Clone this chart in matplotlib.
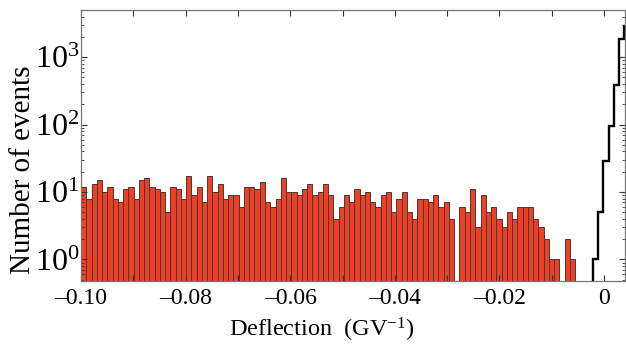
import numpy as np
import matplotlib
matplotlib.use("Agg")
import matplotlib.pyplot as plt
from matplotlib.ticker import MultipleLocator, FuncFormatter, LogLocator, NullFormatter

# ---- data ----
red_start = -0.1
red_bin = 0.001005
red_counts = [12, 8, 13, 15, 10, 12, 8, 7, 11, 12, 8, 15, 16, 12, 11, 10, 5, 12, 11, 8, 17, 9,
              12, 7, 17, 10, 13, 8, 9, 9, 6, 12, 12, 11, 14, 7, 6, 8, 16, 10, 10, 9, 11, 13, 9, 10,
              13, 9, 4, 6, 9, 7, 11, 9, 10, 7, 6, 9, 10, 5, 8, 10, 5, 4, 8, 8, 7, 9, 6, 7,
              4, 0, 6, 5, 11, 3, 9, 5, 6, 4, 3, 5, 4, 6, 6, 6, 4, 3, 2, 1, 1, 0, 2, 1]
black_edges = [-0.0022, -0.0012, -0.0002, 0.0009, 0.0019, 0.0029, 0.0039, 0.0049]
black_counts = [1, 5, 29, 95, 390, 1860, 2930]

plt.rcParams['font.family'] = ['Liberation Serif', 'DejaVu Serif']
plt.rcParams['mathtext.fontset'] = 'custom'
plt.rcParams['mathtext.rm'] = 'Liberation Serif'
plt.rcParams['mathtext.it'] = 'Liberation Serif:italic'

fig = plt.figure(figsize=(6.26, 3.47), dpi=100)
ax = fig.add_axes([81/626, 1-281/347, (625-81)/626, (281-10)/347])

edges = red_start + red_bin*np.arange(len(red_counts)+1)
counts = np.array(red_counts, dtype=float)
mask = counts > 0
ax.bar(edges[:-1][mask], counts[mask], width=red_bin, align='edge',
       color='#EC4126', edgecolor='#4a3733', linewidth=0.7, bottom=0.01)
ax.stairs(black_counts, black_edges, baseline=0.01, fill=False, color='black', linewidth=1.7)

ax.set_yscale('log')
ax.set_ylim(0.48, 5000)
ax.set_xlim(-0.1, 0.0040)

ax.xaxis.set_major_locator(MultipleLocator(0.02))
ax.xaxis.set_minor_locator(MultipleLocator(0.01))
def fmt(v, pos):
    if abs(v) < 1e-9:
        return '0'
    s = '%.2f' % abs(v)
    return ('\u2013' + s) if v < 0 else s
ax.xaxis.set_major_formatter(FuncFormatter(fmt))
ax.yaxis.set_major_locator(LogLocator(base=10, numticks=10))
ax.yaxis.set_major_formatter(FuncFormatter(lambda v, p: '$10^{%d}$' % int(round(np.log10(v)))))
ax.yaxis.set_minor_locator(LogLocator(base=10, subs=np.arange(2, 10), numticks=20))
ax.yaxis.set_minor_formatter(NullFormatter())

ax.tick_params(which='both', direction='in', top=True, right=True, color='#333333')
ax.tick_params(axis='x', labelsize=17, pad=5)
ax.tick_params(axis='y', labelsize=23, pad=1)
ax.tick_params(which='major', length=4, width=0.8)
ax.tick_params(which='minor', length=2.5, width=0.6)
ax.tick_params(axis='x', which='minor', length=4, width=0.8)
for s in ax.spines.values():
    s.set_color('#777777')
    s.set_linewidth(0.9)

ax.set_xlabel('Deflection  (GV$^{-1}$)', fontsize=17.5)
ax.xaxis.set_label_coords(0.443, -0.128)
ax.set_ylabel('Number of events', fontsize=21)
ax.yaxis.set_label_coords(-0.082, 0.41)

fig.savefig('out.png', dpi=100)
